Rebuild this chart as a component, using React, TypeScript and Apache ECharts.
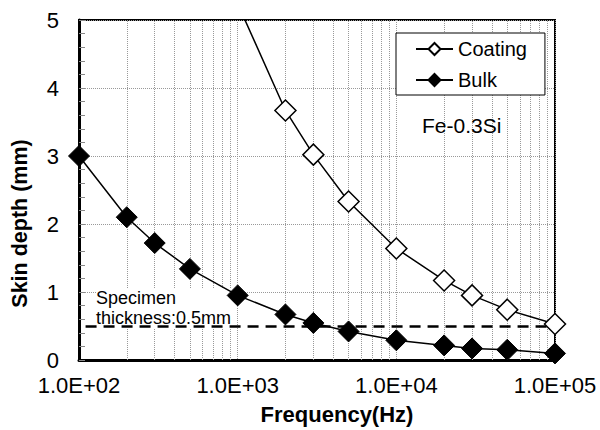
import React, { useEffect, useRef } from "react";
import * as echarts from "echarts";

// ---- data ----
const frequencies = [100, 200, 300, 500, 1000, 2000, 3000, 5000, 10000, 20000, 30000, 50000, 100000];
const bulkDepth = [3.0, 2.1, 1.72, 1.34, 0.95, 0.67, 0.545, 0.42, 0.29, 0.215, 0.17, 0.15, 0.097];
const coatingDepth = [null, null, null, null, 5.24, 3.67, 3.02, 2.33, 1.64, 1.17, 0.95, 0.74, 0.53];
const seriesNames = ["Coating", "Bulk"];
const xTickValues = [100, 1000, 10000, 100000];
const xTickLabels = ["1.0E+02", "1.0E+03", "1.0E+04", "1.0E+05"];
const minorDecades = [100, 1000, 10000];
const minorMultipliers = [2, 3, 4, 5, 6, 7, 8, 9];
const thicknessValue = 0.5;
const thicknessStartFreq = 110;
const materialLabel = "Fe-0.3Si";
const thicknessLabel = "Specimen\nthickness:0.5mm";
const xAxisTitle = "Frequency(Hz)";
const yAxisTitle = "Skin depth (mm)";

const FONT = "'Liberation Sans', Arial, sans-serif";

export default function App() {
  const ref = useRef<HTMLDivElement>(null);

  useEffect(() => {
    document.body.style.margin = "0";
    if (!ref.current) return;
    const chart = echarts.init(ref.current, null, { renderer: "svg" });

    const zip = (vals: (number | null)[]) =>
      frequencies.map((f, i) => [f, vals[i]]).filter((p) => p[1] !== null);

    const minorLines: any[] = [];
    minorDecades.forEach((d) => minorMultipliers.forEach((m) => minorLines.push({ xAxis: d * m })));

    const option: any = {
      animation: false,
      textStyle: { fontFamily: FONT },
      grid: {
        left: 79,
        right: 45,
        top: 20,
        bottom: 64,
        show: true,
        borderColor: "#000",
        borderWidth: 2,
        backgroundColor: "transparent",
      },
      legend: {
        data: seriesNames,
        orient: "vertical",
        left: 396,
        top: 33,
        padding: [6, 18, 5, 19],
        itemGap: 11,
        itemWidth: 37,
        itemHeight: 15,
        backgroundColor: "#fff",
        borderColor: "#000",
        borderWidth: 1,
        borderRadius: 0,
        textStyle: { fontSize: 20, color: "#000", fontFamily: FONT },
        selectedMode: false,
      },
      xAxis: {
        type: "log",
        logBase: 10,
        min: 100,
        max: 100000,
        name: xAxisTitle,
        nameLocation: "middle",
        nameGap: 43,
        nameTextStyle: {
          fontSize: 22,
          fontWeight: "bold",
          color: "#000",
          fontFamily: FONT,
          padding: [0, 0, 0, 40],
        },
        axisLine: { show: true, lineStyle: { color: "#000", width: 3 } },
        axisTick: { show: false },
        axisLabel: {
          fontSize: 22,
          color: "#000",
          margin: 14,
          fontFamily: FONT,
          formatter: (v: number) => {
            const i = xTickValues.findIndex((t) => Math.abs(t - v) / t < 1e-6);
            return i >= 0 ? xTickLabels[i] : "";
          },
        },
        splitLine: { show: true, lineStyle: { color: "#999", type: "dotted", width: 1 } },
      },
      yAxis: {
        type: "value",
        min: 0,
        max: 5,
        interval: 1,
        name: yAxisTitle,
        nameLocation: "middle",
        nameGap: 48,
        nameTextStyle: {
          fontSize: 21.5,
          fontWeight: "bold",
          color: "#000",
          fontFamily: FONT,
          padding: [0, 67, 0, 0],
        },
        axisLine: { show: true, lineStyle: { color: "#000", width: 3 } },
        axisTick: { show: true, inside: true, length: 6, lineStyle: { color: "#888" } },
        minorTick: { show: true, splitNumber: 5, length: 6, lineStyle: { color: "#888" } },
        axisLabel: { fontSize: 22, color: "#000", margin: 20, fontFamily: FONT },
        splitLine: { show: true, lineStyle: { color: "#999", type: "dotted", width: 1 } },
      },
      series: [
        {
          name: seriesNames[0],
          type: "line",
          data: zip(coatingDepth),
          clip: true,
          symbol: "diamond",
          symbolSize: 21,
          lineStyle: { color: "#000", width: 1.5 },
          itemStyle: { color: "#fff", borderColor: "#000", borderWidth: 1.5 },
          z: 3,
          markLine: {
            silent: true,
            z: 1,
            symbol: ["none", "none"],
            label: { show: false },
            lineStyle: { color: "#999", type: "dotted", width: 1 },
            emphasis: { disabled: true },
            animation: false,
            data: minorLines,
          },
        },
        {
          name: seriesNames[1],
          type: "line",
          data: zip(bulkDepth),
          clip: true,
          symbol: "diamond",
          symbolSize: 21,
          lineStyle: { color: "#000", width: 1.5 },
          itemStyle: { color: "#000", borderColor: "#000", borderWidth: 1 },
          z: 3,
          markLine: {
            silent: true,
            z: 2,
            symbol: ["none", "none"],
            label: { show: false },
            lineStyle: { color: "#000", type: [11, 7], width: 2.5 },
            emphasis: { disabled: true },
            animation: false,
            data: [[{ coord: [thicknessStartFreq, thicknessValue] }, { coord: [100000, thicknessValue] }]],
          },
        },
      ],
      graphic: [
        {
          type: "text",
          z: 1.5,
          x: 422,
          y: 125,
          style: {
            text: materialLabel,
            fontSize: 21,
            fontFamily: FONT,
            fill: "#000",
            verticalAlign: "middle",
            align: "left",
          },
        },
        {
          type: "text",
          z: 1.5,
          x: 96,
          y: 288,
          style: {
            text: thicknessLabel,
            fontSize: 18,
            lineHeight: 20,
            fontFamily: FONT,
            fill: "#000",
            backgroundColor: "#fff",
            verticalAlign: "top",
            align: "left",
          },
        },
      ],
    };

    chart.setOption(option);
    return () => chart.dispose();
  }, []);

  return <div ref={ref} style={{ width: 600, height: 430 }} />;
}
